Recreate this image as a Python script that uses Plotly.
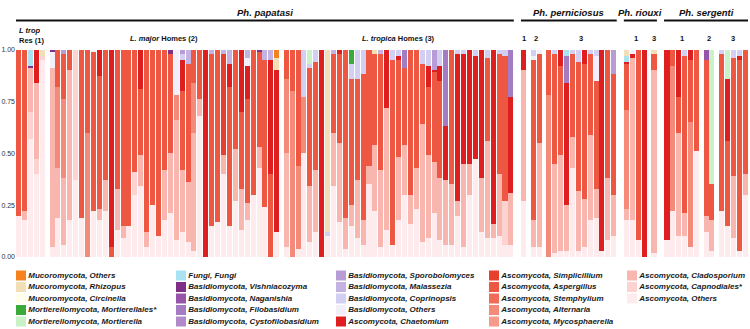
import plotly.graph_objects as go

# ---------------- taxa (legend order) and colours ----------------
taxa = [
    "Mucoromycota, Others", "Mucoromycota, Rhizopus", "Mucoromycota, Circinella",
    "Mortierellomycota, Mortierellales*", "Mortierellomycota, Mortierella",
    "Fungi, Fungi", "Basidiomycota, Vishniacozyma", "Basidiomycota, Naganishia",
    "Basidiomycota, Filobasidium", "Basidiomycota, Cystofilobasidium",
    "Basidiomycota, Sporobolomyces", "Basidiomycota, Malassezia",
    "Basidiomycota, Coprinopsis", "Basidiomycota, Others", "Ascomycota, Chaetomium",
    "Ascomycota, Simplicillium", "Ascomycota, Aspergillus", "Ascomycota, Stemphylium",
    "Ascomycota, Alternaria", "Ascomycota, Mycosphaerella", "Ascomycota, Cladosporium",
    "Ascomycota, Capnodiales*", "Ascomycota, Others",
]
colors = [
    "#F5821F", "#F2DFB8", "#FFFDEB", "#3BAA3B", "#C9F2C9", "#A9E3F2",
    "#7E2F86", "#9655A8", "#A47CC4", "#B08ACA", "#B79CD6", "#C4B2E2",
    "#D3CFF2", "#F3EFFA", "#DF1F1F", "#E8402F", "#EE5843", "#F06B58",
    "#F48A79", "#F69A8B", "#F9B6AE", "#FCD3D1", "#FDEBEE",
]

# ---------------- sample groups ----------------
species = ["Ph. papatasi", "Ph. perniciosus", "Ph. riouxi", "Ph. sergenti"]
sub_species = [0, 0, 0, 1, 1, 1, 2, 2, 3, 3, 3]
sub_labels = ["<i>L trop</i><br>Res (1)", "<i>L. major</i> Homes (2)", "<i>L. tropica</i> Homes (3)",
              "1", "2", "3", "1", "3", "1", "2", "3"]
sub_sizes = [5, 39, 39, 1, 2, 12, 4, 1, 6, 2, 5]
N = sum(sub_sizes)  # 116 samples

# ---------------- relative abundances (main Ascomycota layers, one value per sample) ----------------
asc_others = [
    .20, .18, .57, .40, .95,
    .05, .19, .06, .18, .37, .19, .00, .22, .18, .22, .00, .13, .09, .15, .30, .34, .05, .25, .10, .18,
    .21, .08, .12, .07, .03, .68, .00, .15, .17, .40, .15, .27, .13, .18, .30, .43, .24, .00, .12,
    .05, .00, .04, .50, .07, .12, .00, .10, .34, .17, .04, .15, .09, .06, .35, .22, .05, .13, .06, .18,
    .30, .16, .23, .07, .09, .21, .08, .06, .06, .20, .05, .30, .47, .12, .09, .09, .10, .06, .06,
    .27,
    .05, .05,
    .00, .02, .03, .03, .43, .03, .05, .18, .19, .03, .08, .10,
    .18, .18, .08, .00,
    .02,
    .08, .22, .10, .10, .05, .51,
    .12, .03,
    .22, .15, .09, .03, .30,
]
asc_cladosporium = [
    .00, .04, .21, .37, .00,
    .86, .24, .32, .72, .00, .00, .00, .00, .05, .15, .00, .20, .06, .00, .00, .15, .07, .00, .00, .24,
    .29, .58, .30, .29, .57, .08, .00, .00, .00, .09, .00, .25, .20, .08, .00, .10, .00, .00, .00,
    .45, .00, .00, .00, .27, .30, .00, .00, .26, .38, .15, .10, .28, .12, .09, .32, .37, .59, .00, .30,
    .24, .14, .20, .57, .40, .25, .30, .31, .29, .07, .40, .15, .00, .26, .47, .07, .30, .00, .25,
    .63,
    .13, .50,
    .00, .43, .46, .22, .15, .29, .23, .41, .14, .00, .30, .20,
    .05, .78, .00, .00,
    .88,
    .00, .00, .50, .11, .00, .00,
    .08, .15,
    .00, .00, .30, .00, .10,
]
asc_aspergillus = [
    .80, .78, .00, .00, .00,
    .00, .18, .22, .10, .00, .81, .40, .77, .64, .63, .05, .67, .85, .85, .59, .32, .88, .75, .90, .58,
    .48, .00, .38, .57, .16, .24, .00, .83, .83, .00, .67, .48, .37, .50, .70, .46, .71, .40, .00,
    .14, .20, .56, .00, .57, .52, .00, .00, .38, .43, .81, .61, .49, .70, .56, .44, .56, .00, .89, .47,
    .37, .70, .57, .29, .33, .43, .47, .00, .65, .00, .00, .00, .00, .00, .40, .00, .58, .70, .00,
    .00,
    .77, .43,
    .22, .53, .43, .00, .40, .62, .65, .39, .52, .00, .62, .58,
    .22, .00, .92, .00,
    .08,
    .00, .08, .17, .76, .30, .49,
    .75, .17,
    .76, .41, .57, .92, .60,
]
# ---------------- less frequent taxa: {sample index: value} ----------------
asc_capnodiales = {2: .13, 3: .07, 4: .02, 9: .63, 19: .11, 81: .21}
asc_alternaria = {6: .39, 7: .38, 11: .60, 26: .12, 29: .24, 44: .36, 45: .80, 46: .40, 47: .27,
                  86: .78, 98: .48, 104: .70, 107: .60}
asc_simplicillium = {34: .49}
asc_chaetomium = {3: .16, 13: .13, 15: .95, 20: .19, 27: .15, 31: 1.0, 35: .11, 37: .30, 38: .16,
                  42: .55, 43: .78, 50: 1.0, 53: .02, 61: .28, 63: .02, 68: .10, 69: .01, 70: .07,
                  71: .26, 73: .71, 74: .53, 75: .55, 76: .50, 77: .62, 79: .84, 82: .46,
                  83: .10, 88: .08, 89: .59, 92: .07, 95: .97, 98: .01, 99: .02, 101: 1.0,
                  103: .92, 105: .23, 107: .05, 112: .30, 114: .02}
basid_others = {5: .08, 12: .01, 26: .22, 38: .04, 84: .02, 85: .02, 94: .12, 99: .02}
basid_coprinopsis = {27: .03, 47: .23, 48: .02, 49: .06, 51: .02, 55: .07, 56: .14, 57: .12, 62: .05,
                     63: .03, 67: .07, 68: .08, 70: .08, 73: .02, 74: .02, 76: .03, 78: .04, 80: .02,
                     81: .03, 84: .03, 87: .02, 90: .02, 91: .06, 93: .02, 94: .03, 106: .03,
                     111: .02, 113: .04, 114: .03}
basid_malassezia = {28: .07, 32: .02, 34: .02, 35: .07, 38: .04, 41: .05, 42: .05, 52: .02, 60: .02}
basid_sporobolomyces = {7: .02, 27: .02, 69: .10, 97: .12}
basid_filobasidium = {64: .09, 71: .37, 82: .23, 89: .13}
basid_naganishia = {109: .05}
basid_vishniacozyma = {2: .01, 5: .01, 25: .02, 40: .01}
fungi_fungi = {2: .08, 89: .03, 98: .03}
mort_mortierella = {48: .07, 110: .65, 112: .14}
mort_mortierellales = {55: .07}
muco_rhizopus = {4: .03, 43: .06, 51: .88, 59: .02, 98: .03, 102: .02}
muco_others = {43: .04}


def dense(d):
    return [d.get(i, 0.0) for i in range(N)]


values = {
    "Mucoromycota, Others": dense(muco_others),
    "Mucoromycota, Rhizopus": dense(muco_rhizopus),
    "Mortierellomycota, Mortierellales*": dense(mort_mortierellales),
    "Mortierellomycota, Mortierella": dense(mort_mortierella),
    "Fungi, Fungi": dense(fungi_fungi),
    "Basidiomycota, Vishniacozyma": dense(basid_vishniacozyma),
    "Basidiomycota, Naganishia": dense(basid_naganishia),
    "Basidiomycota, Filobasidium": dense(basid_filobasidium),
    "Basidiomycota, Sporobolomyces": dense(basid_sporobolomyces),
    "Basidiomycota, Malassezia": dense(basid_malassezia),
    "Basidiomycota, Coprinopsis": dense(basid_coprinopsis),
    "Basidiomycota, Others": dense(basid_others),
    "Ascomycota, Chaetomium": dense(asc_chaetomium),
    "Ascomycota, Simplicillium": dense(asc_simplicillium),
    "Ascomycota, Aspergillus": asc_aspergillus,
    "Ascomycota, Alternaria": dense(asc_alternaria),
    "Ascomycota, Cladosporium": asc_cladosporium,
    "Ascomycota, Capnodiales*": dense(asc_capnodiales),
    "Ascomycota, Others": asc_others,
}
zeros = [0.0] * N

# ---------------- x positions (with gaps between groups) ----------------
GAP_WITHIN, GAP_BETWEEN, BAR_W = 0.6, 1.2, 0.85
xpos, sub_extent = [], []
pos = 0.0
for gi, n in enumerate(sub_sizes):
    if gi > 0:
        pos += GAP_BETWEEN if sub_species[gi] != sub_species[gi - 1] else GAP_WITHIN
    start = pos
    for _ in range(n):
        xpos.append(pos)
        pos += 1
    sub_extent.append((start, pos - 1))
x_lo, x_hi = xpos[0] - 0.5, xpos[-1] + 0.5

W, H = 750, 329
PX0, PX1 = 16, 748          # plot area in pixels
PY_TOP, PY_BOT = 49.5, 257  # y=1 and y=0 in pixels
LEG_TOP = 263               # legend band top (pixels)

fig = go.Figure()
# stacking: last legend entry at bottom
for name, col in reversed(list(zip(taxa, colors))):
    fig.add_trace(go.Bar(
        x=xpos, y=values.get(name, zeros), marker=dict(color=col, line=dict(width=0)),
        width=BAR_W, name=name, showlegend=False, hoverinfo="name+y",
    ))

# ---------------- manual legend (5 columns) ----------------
col_x = [21, 181, 341, 494, 632]
rows_per_col = 5
row_y0, row_dy = 275.5, 11.5
lx, ly, ltxt, lcol = [], [], [], []
for i, (name, col) in enumerate(zip(taxa, colors)):
    c, r = divmod(i, rows_per_col)
    lx.append(col_x[c])
    ly.append(row_y0 + r * row_dy)
    ltxt.append("<b><i>%s</i></b>" % name)
    lcol.append(col)
fig.add_trace(go.Scatter(
    x=lx, y=ly, mode="markers+text", text=ltxt, textposition="middle right",
    marker=dict(symbol="square", size=10, color=lcol, line=dict(width=0)),
    textfont=dict(size=8, color="#1a1a1a", family="Liberation Sans, Arial, sans-serif"),
    xaxis="x2", yaxis="y2", showlegend=False, hoverinfo="skip", cliponaxis=False,
))

# ---------------- axis segments, headers ----------------
shapes, annotations = [], []
for gi, (s, e) in enumerate(sub_extent):
    shapes.append(dict(type="line", xref="x", yref="y", x0=s - 0.5, x1=e + 0.5, y0=-0.011, y1=-0.011,
                       line=dict(color="#8c8c8c", width=2)))
for si, sp in enumerate(species):
    idx = [gi for gi in range(len(sub_sizes)) if sub_species[gi] == si]
    s = sub_extent[idx[0]][0] - 0.5
    e = sub_extent[idx[-1]][1] + 0.5
    shapes.append(dict(type="line", xref="x", yref="paper", x0=s, x1=e,
                       y0=1 - 20.5 / H, y1=1 - 20.5 / H, line=dict(color="#111", width=2)))
    annotations.append(dict(x=(s + e) / 2, y=1 - 12 / H, xref="x", yref="paper", showarrow=False,
                            text="<b><i>%s</i></b>" % sp, font=dict(size=9.5, color="#111"),
                            xanchor="center", yanchor="middle"))
for gi, lab in enumerate(sub_labels):
    s, e = sub_extent[gi]
    if gi == 0:
        annotations.append(dict(x=s - 0.4, y=1 - 35 / H, xref="x", yref="paper", showarrow=False,
                                text="<b>%s</b>" % lab, font=dict(size=7.5, color="#111"),
                                xanchor="left", yanchor="middle", align="left"))
    else:
        annotations.append(dict(x=(s + e) / 2, y=1 - 38.5 / H, xref="x", yref="paper", showarrow=False,
                                text="<b>%s</b>" % lab, font=dict(size=7.5, color="#111"),
                                xanchor="center", yanchor="middle"))

fig.update_layout(
    width=W, height=H, margin=dict(l=0, r=0, t=0, b=0, autoexpand=False),
    paper_bgcolor="white", plot_bgcolor="rgba(0,0,0,0)",
    barmode="stack",
    font=dict(family="Liberation Sans, Arial, sans-serif"),
    xaxis=dict(domain=[PX0 / W, PX1 / W], range=[x_lo, x_hi], showticklabels=False,
               showgrid=False, zeroline=False, showline=False, ticks="", anchor="y"),
    yaxis=dict(domain=[1 - PY_BOT / H, 1 - PY_TOP / H], range=[0, 1], showgrid=False,
               zeroline=False, showline=False, tickvals=[0, .25, .5, .75, 1],
               ticktext=["0.00", "0.25", "0.50", "0.75", "1.00"],
               tickfont=dict(size=7, color="#333"), ticks="", anchor="x"),
    xaxis2=dict(domain=[0, 1], range=[0, W], visible=False, anchor="y2"),
    yaxis2=dict(domain=[0, 1 - LEG_TOP / H], range=[H, LEG_TOP], visible=False, anchor="x2"),
    shapes=shapes, annotations=annotations, showlegend=False,
)
fig.write_html("out.html", config={"displayModeBar": False},
               post_script="document.body.style.margin='0';document.body.style.padding='0';")
